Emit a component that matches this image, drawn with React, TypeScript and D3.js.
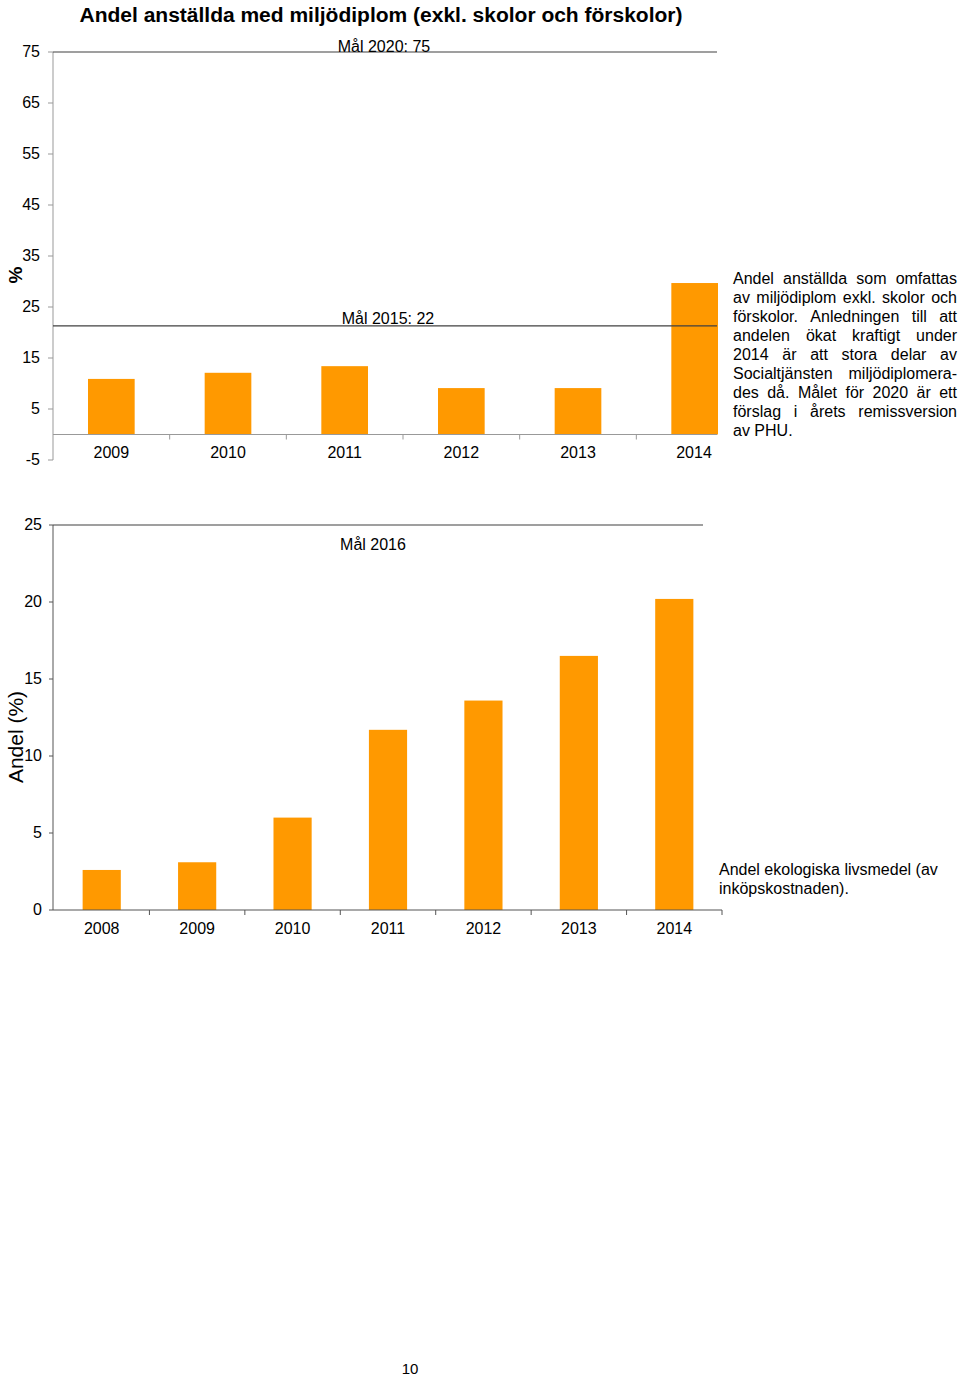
import React from "react";
import * as d3 from "d3";

const years1 = ["2009", "2010", "2011", "2012", "2013", "2014"];
const values1 = [10.9, 12.1, 13.4, 9.1, 9.1, 29.7];
const ticks1 = [75, 65, 55, 45, 35, 25, 15, 5, -5];
const goal2020 = 75;
const goal2015 = 21.3;
const title1 = "Andel anställda med miljödiplom (exkl. skolor och förskolor)";

const years2 = ["2008", "2009", "2010", "2011", "2012", "2013", "2014"];
const values2 = [2.6, 3.1, 6.0, 11.7, 13.6, 16.5, 20.2];
const ticks2 = [25, 20, 15, 10, 5, 0];
const goal2016 = 25;

const text1Lines = [
  "Andel anställda som omfattas",
  "av miljödiplom exkl. skolor och",
  "förskolor. Anledningen till att",
  "andelen ökat kraftigt under",
  "2014 är att stora delar av",
  "Socialtjänsten miljödiplomera-",
  "des då. Målet för 2020 är ett",
  "förslag i årets remissversion",
  "av PHU.",
];
const text2Lines = ["Andel ekologiska livsmedel (av", "inköpskostnaden)."];

const ORANGE = "#FF9900";
const NARROW = "'Liberation Sans Narrow', 'Arial Narrow', 'Liberation Sans', sans-serif";
const SANS = "'Liberation Sans', Arial, sans-serif";

let ctx: CanvasRenderingContext2D | null = null;
function measure(s: string, font: string) {
  if (!ctx) ctx = document.createElement("canvas").getContext("2d");
  ctx!.font = font;
  return ctx!.measureText(s).width;
}

function Justified({ lines, x, y0, width, lh, size }: any) {
  const font = `${size}px 'Liberation Sans'`;
  return (
    <g fontFamily={SANS} fontSize={size} fill="#000">
      {lines.map((line: string, i: number) => {
        const y = y0 + i * lh;
        const words = line.split(" ");
        const last = i === lines.length - 1;
        if (last || words.length < 2) {
          return (
            <text key={i} x={x} y={y}>
              {line}
            </text>
          );
        }
        const ws = words.map((w) => measure(w, font));
        const total = ws.reduce((a, b) => a + b, 0);
        const gap = (width - total) / (words.length - 1);
        let cx = x;
        return (
          <g key={i}>
            {words.map((w, j) => {
              const el = (
                <text key={j} x={cx} y={y}>
                  {w}
                </text>
              );
              cx += ws[j] + gap;
              return el;
            })}
          </g>
        );
      })}
    </g>
  );
}

export default function App() {
  // Chart 1
  const x1 = d3.scaleBand<string>().domain(years1).range([53, 753]).paddingInner(0.6).paddingOuter(0.3);
  const xb1 = d3.scaleBand<string>().domain(years1).range([53, 753]);
  const y1 = d3.scaleLinear().domain([-5, 75]).range([460, 52]);
  const left1 = 53;
  const right1 = 717;

  // Chart 2
  const x2 = d3.scaleBand<string>().domain(years2).range([54, 722]).paddingInner(0.6).paddingOuter(0.3);
  const xb2 = d3.scaleBand<string>().domain(years2).range([54, 722]);
  const y2 = d3.scaleLinear().domain([0, 25]).range([910, 525]);
  const left2 = 53;

  return (
    <svg width={960} height={1378} style={{ position: "absolute", left: 0, top: 0 }}>
      <rect x={0} y={0} width={960} height={1378} fill="#fff" />
      <defs>
        <clipPath id="clip1">
          <rect x={0} y={0} width={718} height={500} />
        </clipPath>
      </defs>

      {/* Title */}
      <text x={381} y={22} textAnchor="middle" fontFamily={SANS} fontWeight="bold" fontSize={20}
        textLength={603} lengthAdjust="spacingAndGlyphs" fill="#000">
        {title1}
      </text>

      {/* Chart 1 */}
      <g clipPath="url(#clip1)">
        {years1.map((yr, i) => (
          <rect key={yr} x={x1(yr)} y={y1(values1[i])} width={x1.bandwidth()}
            height={y1(0) - y1(values1[i])} fill={ORANGE} />
        ))}
      </g>
      <line x1={left1} x2={right1} y1={y1(0)} y2={y1(0)} stroke="#999" strokeWidth={1} />
      {years1.slice(1).map((yr) => (
        <line key={yr} x1={xb1(yr)} x2={xb1(yr)} y1={y1(0)} y2={y1(0) + 5} stroke="#999" />
      ))}
      <line x1={left1} x2={left1} y1={y1(75)} y2={y1(-5)} stroke="#999" />
      {ticks1.map((t) => (
        <g key={t}>
          <line x1={left1 - 5} x2={left1} y1={y1(t)} y2={y1(t)} stroke="#999" />
          <text x={40} y={y1(t) + 5} textAnchor="end" fontFamily={NARROW} fontSize={16} fill="#000">
            {t}
          </text>
        </g>
      ))}
      {years1.map((yr) => (
        <text key={yr} x={Math.min(xb1(yr)! + xb1.bandwidth() / 2, 694)} y={458} textAnchor="middle"
          fontFamily={NARROW} fontSize={16} fill="#000">
          {yr}
        </text>
      ))}
      <line x1={left1} x2={right1} y1={y1(goal2020)} y2={y1(goal2020)} stroke="#404040" strokeWidth={1.2} />
      <text x={384} y={52} textAnchor="middle" fontFamily={NARROW} fontSize={16} fill="#000">
        Mål 2020: 75
      </text>
      <line x1={left1} x2={right1} y1={y1(goal2015)} y2={y1(goal2015)} stroke="#404040" strokeWidth={1.2} />
      <text x={388} y={324} textAnchor="middle" fontFamily={NARROW} fontSize={16} fill="#000">
        Mål 2015: 22
      </text>
      <text transform={`translate(22,275) rotate(-90)`} textAnchor="middle" fontFamily={SANS}
        fontWeight="bold" fontSize={19} fill="#000">
        %
      </text>

      <Justified lines={text1Lines} x={733} y0={284} width={224} lh={19} size={16} />

      {/* Chart 2 */}
      {years2.map((yr, i) => (
        <rect key={yr} x={x2(yr)} y={y2(values2[i])} width={x2.bandwidth()}
          height={y2(0) - y2(values2[i])} fill={ORANGE} />
      ))}
      <line x1={left2} x2={722} y1={y2(0)} y2={y2(0)} stroke="#555" />
      {years2.slice(1).map((yr) => (
        <line key={yr} x1={xb2(yr)} x2={xb2(yr)} y1={y2(0)} y2={y2(0) + 5} stroke="#555" />
      ))}
      <line x1={722} x2={722} y1={y2(0)} y2={y2(0) + 5} stroke="#555" />
      <line x1={left2} x2={left2} y1={y2(25)} y2={y2(0)} stroke="#555" />
      {ticks2.map((t) => (
        <g key={t}>
          <line x1={left2 - 4} x2={left2} y1={y2(t)} y2={y2(t)} stroke="#555" />
          <text x={42} y={y2(t) + 5} textAnchor="end" fontFamily={NARROW} fontSize={16} fill="#000">
            {t}
          </text>
        </g>
      ))}
      {years2.map((yr) => (
        <text key={yr} x={xb2(yr)! + xb2.bandwidth() / 2} y={934} textAnchor="middle"
          fontFamily={NARROW} fontSize={16} fill="#000">
          {yr}
        </text>
      ))}
      <line x1={left2} x2={703} y1={y2(goal2016)} y2={y2(goal2016)} stroke="#404040" strokeWidth={1.2} />
      <text x={373} y={550} textAnchor="middle" fontFamily={NARROW} fontSize={16} fill="#000">
        Mål 2016
      </text>
      <text transform={`translate(23,737) rotate(-90)`} textAnchor="middle" fontFamily={SANS}
        fontSize={21} fill="#000">
        Andel (%)
      </text>

      <g fontFamily={SANS} fontSize={16} fill="#000">
        {text2Lines.map((l, i) => (
          <text key={i} x={719} y={875 + i * 19}>
            {l}
          </text>
        ))}
      </g>

      <text x={410} y={1374} textAnchor="middle" fontFamily={SANS} fontSize={15} fill="#000">
        10
      </text>
    </svg>
  );
}
